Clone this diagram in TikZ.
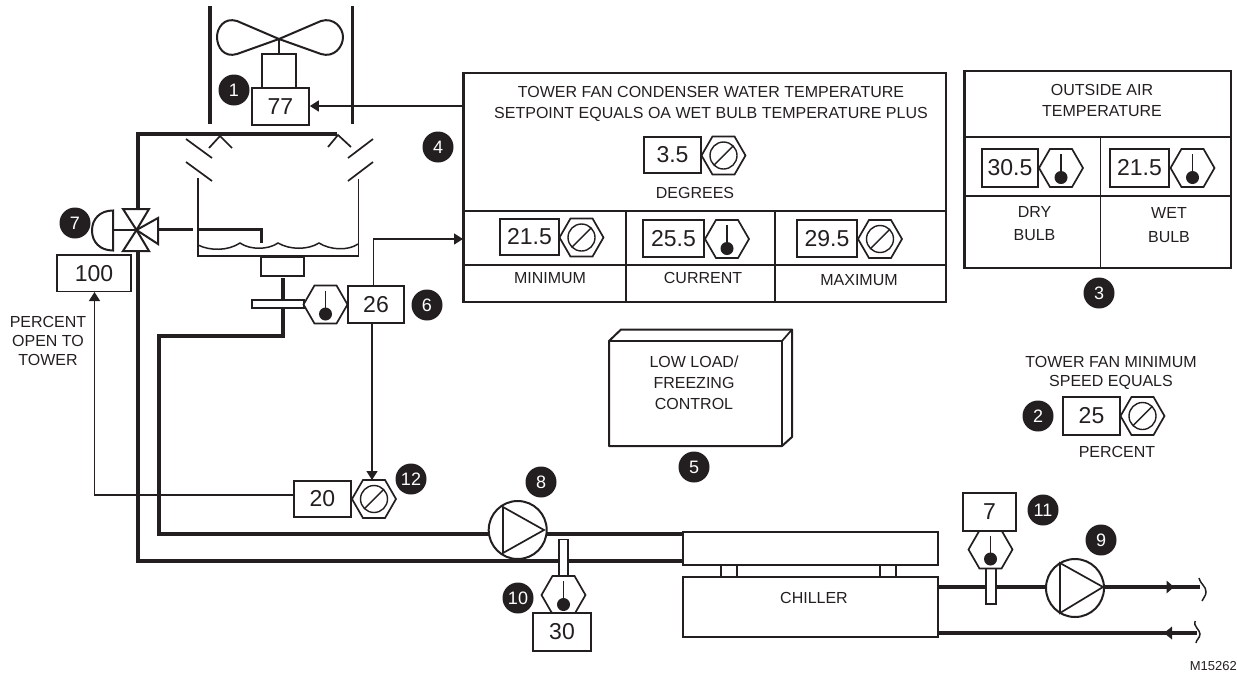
\documentclass[tikz,border=0pt]{standalone}
\usepackage{fontspec}
\setmainfont{Liberation Sans}
\usetikzlibrary{shapes.geometric,arrows.meta,calc}
\definecolor{ink}{HTML}{231F20}
\tikzset{
  valbox/.style={draw=ink,line width=1.7pt,fill=white,inner sep=0pt,font=\fontsize{23}{24}\selectfont,text=ink},
  hexbox/.style={draw=ink,line width=1.7pt,fill=white,regular polygon,regular polygon sides=6,inner sep=0pt,minimum size=44pt},
  badge/.style={circle,fill=ink,text=white,inner sep=0pt,minimum size=31pt,font=\fontsize{18}{20}\selectfont},
  lbl/.style={text=ink,inner sep=0pt,align=center,font=\fontsize{16}{21}\selectfont},
  pipe/.style={draw=ink,line width=3.4pt},
  frame/.style={draw=ink,line width=2.2pt},
  med/.style={draw=ink,line width=1.7pt},
  signal/.style={draw=ink,line width=1.5pt,-{Triangle[length=9pt,width=11pt]}},
}
% value box: name, x1, y1, x2, y2, text
\newcommand{\valb}[6]{\node[valbox,minimum width=#4pt-#2pt,minimum height=#5pt-#3pt] (#1) at ({(#2+#4)/2},{(#3+#5)/2}) {\raisebox{-2pt}{#6}};}
\newcommand{\knobhex}[3]{\node[hexbox] (#1) at (#2,#3) {};
  \draw[med,line width=1.4pt] (#1.center) circle[radius=13.5pt];
  \draw[draw=ink,line width=1.4pt] ($(#1.center)+(-9.5,9.5)$) -- ($(#1.center)+(9.5,-9.5)$);}
\newcommand{\thermhex}[3]{\node[hexbox] (#1) at (#2,#3) {};
  \draw[draw=ink,line width=1.6pt] ($(#1.center)+(0,-14)$) -- ($(#1.center)+(0,9)$);
  \fill[ink] ($(#1.center)+(0,9.5)$) circle[radius=6.5pt];}
\begin{document}
\begin{tikzpicture}[x=1pt,y=-1pt]
\useasboundingbox (0,0) rectangle (1237,673);
% fan housing
\draw[draw=ink,line width=3.6pt] (210,6) -- (210,124);
\draw[draw=ink,line width=3.6pt] (352.5,6) -- (352.5,124);
% fan
\draw[med,line width=2pt,line join=round] (279,39) -- (237,21) .. controls (224,17) and (217,28) .. (217,37) .. controls (217,47) and (224,58) .. (237,54) -- (279,39) -- (321,21) .. controls (334,17) and (343,28) .. (343,37) .. controls (343,47) and (334,58) .. (321,54) -- cycle;
\draw[med] (279,39) -- (279,54);
\node[draw=ink,line width=1.7pt,inner sep=0pt,minimum width=34.5pt,minimum height=34pt] (motor) at (279,71) {};
\valb{b77}{252}{88}{309}{125}{77}
\node[badge] (n1) at (234,90) {1};
% spray pipe
\draw[pipe,line join=miter] (138,208) -- (138,134) -- (337,134);
% nozzles
\draw[med] (209,148) -- (220,136) -- (232,148);
\draw[med] (328,147) -- (338,135) -- (351,147);
% louvers
\draw[med] (186,139) -- (212,158);
\draw[med] (186,162) -- (212,181);
\draw[med] (373,139) -- (348,158);
\draw[med] (373,162) -- (348,181);
% basin
\draw[med,line width=1.5pt] (198,178) -- (198,256) -- (358.5,256) -- (358.5,179);
\draw[med,line width=1.5pt] (198,245) .. controls (210,251) and (228,251) .. (240,243) .. controls (250,250) and (268,250) .. (278,243) .. controls (290,250) and (308,250) .. (319,243) .. controls (330,250) and (348,251) .. (358,244);
\draw[pipe,line width=3pt] (158,229) -- (193,229);
\draw[pipe,line width=3pt] (198,229) -- (261,229) -- (261,243);
\node[draw=ink,line width=1.7pt,inner sep=0pt,minimum width=43pt,minimum height=19pt] (sump) at (282.5,266.5) {};
% outlet and return pipes
\draw[pipe] (283,278) -- (283,336) -- (159,336) -- (159,534) -- (683,534);
\draw[pipe] (138,251) -- (138,561) -- (683,561);
% valve
\coordinate (vc) at (136.5,230);
\draw[med,line width=2pt,line join=miter,fill=white] (vc) -- (123,209) -- (149,209) -- cycle;
\draw[med,line width=2pt,line join=miter,fill=white] (vc) -- (123,251) -- (149,251) -- cycle;
\draw[med,line width=2pt,line join=miter,fill=white] (vc) -- (158,218) -- (158,244) -- cycle;
\draw[med] (113,230) -- (vc);
\draw[med,line width=2pt] (113,210.5) .. controls (100,210.5) and (92,219) .. (92,230.5) .. controls (92,242) and (100,250.5) .. (113,250.5) -- cycle;
\node[badge] (n7) at (75,223) {7};
\valb{b100}{57}{255}{131}{291.5}{100}
% sensor 6
\node[draw=ink,line width=1.7pt,fill=white,inner sep=0pt,minimum width=52pt,minimum height=8pt] (well6) at (278,304) {};
\thermhex{h6}{325.5}{304.5}
\valb{b26}{348}{286}{404}{323}{26}
\node[badge] (n6) at (427,305) {6};
% panel 4
\draw[frame] (463.5,73) rectangle (946,302);
\draw[med] (463.5,211) -- (946,211);
\draw[med] (463.5,265) -- (946,265);
\draw[med] (626,211) -- (626,302);
\draw[med] (775,211) -- (775,302);
\node[lbl] (t4) at (711,103.5) {TOWER FAN CONDENSER WATER TEMPERATURE\\SETPOINT EQUALS OA WET BULB TEMPERATURE PLUS};
\valb{b35}{644}{137}{701}{173}{3.5}
\knobhex{h35}{723.5}{155.5}
\node[lbl] (tdeg) at (695,193) {DEGREES};
\valb{bmin}{500}{219}{559}{255}{21.5}
\knobhex{hmin}{581.5}{237.5}
\valb{bcur}{643}{220}{704}{257}{25.5}
\thermhex{hcur}{727}{239}
\valb{bmax}{797}{220}{857}{257}{29.5}
\knobhex{hmax}{880}{239}
\node[lbl] (tmin) at (550,278) {MINIMUM};
\node[lbl] (tcur) at (703,278) {CURRENT};
\node[lbl] (tmax) at (859,280) {MAXIMUM};
\node[badge] (n4) at (438,147) {4};
% panel 3
\draw[frame] (964.5,71) rectangle (1231,268);
\draw[med] (964.5,137) -- (1231,137);
\draw[med] (964.5,196) -- (1231,196);
\draw[med] (1100.5,137) -- (1100.5,268);
\node[lbl] (t3) at (1102,100.5) {OUTSIDE AIR\\TEMPERATURE};
\valb{bdry}{982}{149}{1038}{187}{30.5}
\thermhex{hdry}{1061}{168}
\valb{bwet}{1110}{149}{1169}{187}{21.5}
\thermhex{hwet}{1192.5}{168}
\node[lbl,font=\fontsize{16}{23}\selectfont] (tdry) at (1034.5,223.5) {DRY\\BULB};
\node[lbl,font=\fontsize{16}{24}\selectfont] (twet) at (1169,225) {WET\\BULB};
\node[badge] (n3) at (1099,293) {3};
% low load box
\draw[med,line width=2pt,line join=round] (609,341) -- (621,329.5) -- (792,329.5) -- (792,437) -- (782,446) -- (609,446) -- cycle;
\draw[med,line width=1.7pt] (609,341) -- (782,341) -- (782,446);
\draw[med,line width=1.7pt] (782,341) -- (792,329.5);
\node[lbl] (tlow) at (694,383) {LOW LOAD/\\FREEZING\\CONTROL};
\node[badge] (n5) at (694,467) {5};
% tower fan min
\node[lbl,font=\fontsize{16}{19}\selectfont] (t2) at (1111,372.5) {TOWER FAN MINIMUM\\SPEED EQUALS};
\valb{b25}{1063}{397}{1120}{435}{25}
\knobhex{h25}{1142.5}{416}
\node[lbl] (tpct) at (1117,452) {PERCENT};
\node[badge] (n2) at (1038,416) {2};
% controller 20
\valb{b20}{294}{481}{351}{517}{20}
\knobhex{h12}{374}{499}
\node[badge] (n12) at (411,479) {12};
\node[lbl,font=\fontsize{16}{19}\selectfont] (tpot) at (48,341) {PERCENT\\OPEN TO\\TOWER};
% signals
\draw[signal] (463.5,106) -- (b77.east |- 0,106);
\draw[signal] (373.5,286) -- (373.5,239) -- (463,239);
\draw[signal] (372,323) -- (372,480);
\draw[signal] (b20.west |- 0,495) -- (94.5,495) -- (94.5,292);
% pumps
\node[circle,draw=ink,line width=2pt,fill=white,inner sep=0pt,minimum size=58pt] (p8) at (517.7,530) {};
\draw[med] (503,507) -- (503,553) -- (544,530) -- cycle;
\node[circle,draw=ink,line width=2pt,fill=white,inner sep=0pt,minimum size=58pt] (p9) at (1075,588) {};
% chiller
\node[draw=ink,line width=2pt,fill=white,inner sep=0pt,minimum width=255pt,minimum height=33pt] (cond) at (810.5,548.5) {};
\node[draw=ink,line width=1.7pt,fill=white,inner sep=0pt,minimum width=16pt,minimum height=12pt] (c1) at (729,571) {};
\node[draw=ink,line width=1.7pt,fill=white,inner sep=0pt,minimum width=16pt,minimum height=12pt] (c2) at (888,571) {};
\node[draw=ink,line width=2pt,fill=white,inner sep=0pt,minimum width=255pt,minimum height=60pt] (chil) at (810.5,607) {};
\node[lbl] (tchil) at (814,598) {CHILLER};
% chilled water
\draw[pipe] (chil.east |- 0,587) -- (p9.west |- 0,587);
\draw[med] (1060,563) -- (1060,613) -- (1103,587) -- cycle;
\draw[pipe] (1103,587) -- (1200,587);
\draw[pipe] (chil.east |- 0,633) -- (1197,633);
\fill[ink] (1174,587) -- (1166.5,580.5) -- (1166.5,593.5) -- cycle;
\fill[ink] (1164,633) -- (1172,626.5) -- (1172,639.5) -- cycle;
\draw[med,line width=1.5pt] (1199,578) .. controls (1201,585) and (1206,586) .. (1206,592) .. controls (1206,596) and (1203,598) .. (1202,601);
\draw[med,line width=1.5pt] (1195,621) .. controls (1193,626) and (1200,630) .. (1200,634) .. controls (1200,638) and (1196,640) .. (1196,643);
% sensor 10
\node[draw=ink,line width=1.7pt,fill=white,inner sep=0pt,minimum width=9pt,minimum height=37pt] (well10) at (563.5,558) {};
\thermhex{h10}{563.5}{595}
\valb{b30}{533}{613}{591}{651}{30}
\node[badge] (n10) at (518,598) {10};
\node[badge] (n8) at (541,482) {8};
% sensor 11
\node[draw=ink,line width=1.7pt,fill=white,inner sep=0pt,minimum width=10pt,minimum height=36pt] (well11) at (991,586) {};
\thermhex{h11}{990.5}{549.5}
\valb{b7}{963}{493}{1016}{531}{7}
\node[badge] (n11) at (1043,510) {11};
\node[badge] (n9) at (1101,540) {9};
\node[lbl,anchor=east,font=\fontsize{13}{14}\selectfont] (tm) at (1237,666) {M15262};
\end{tikzpicture}
\end{document}
